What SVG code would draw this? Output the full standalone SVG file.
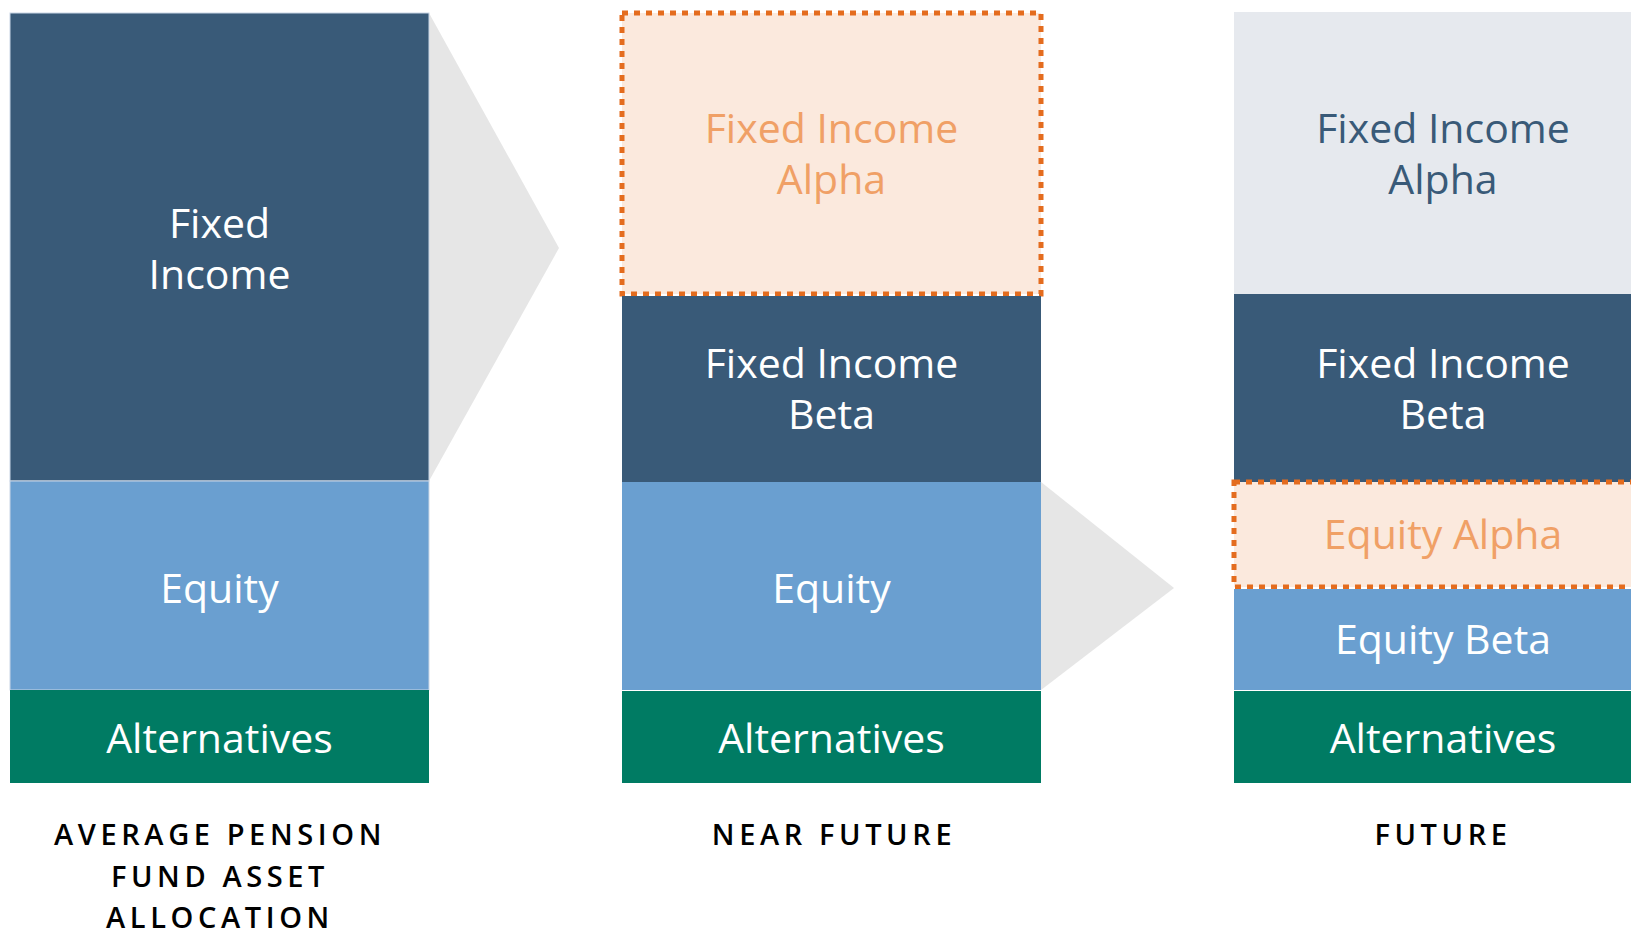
<svg xmlns="http://www.w3.org/2000/svg" width="1631" height="933" viewBox="0 0 1631 933">
<style>
.dark{fill:#395a78}
.eq{fill:#6a9fd0}
.alt{fill:#007b63}
.alpha{fill:#fbe9dd}
.grey{fill:#e6e9ee}
.dash{fill:none;stroke:#e46c1e;stroke-width:5;stroke-dasharray:6 6}
.arrow{fill:#e6e6e6}
.t{font-family:"Open Sans","Noto Sans",sans-serif;font-size:41px;font-weight:500;text-anchor:middle}
.w{fill:#ffffff}
.o{fill:#f0a066}
.b{fill:#395a78}
.h{font-family:"Open Sans","Noto Sans",sans-serif;font-size:29px;font-weight:600;letter-spacing:4.6px;text-anchor:middle;fill:#000000}
</style>
<rect width="1631" height="933" fill="#ffffff"/>
<g id="connectors">
<polygon class="arrow" points="429,13 559,248 429,481"/>
<polygon class="arrow" points="1041,482 1174,588 1041,690"/>
</g>
<g id="col1">
<g id="c1-fixed-income"><rect class="dark" x="10" y="13" width="419" height="468" stroke="#c9d6e6" stroke-width="1"/><text class="t w" x="219.5" y="238">Fixed</text><text class="t w" x="219.5" y="289">Income</text></g>
<g id="c1-equity"><rect class="eq" x="10" y="481" width="419" height="209" stroke="#c9d6e6" stroke-width="1"/><text class="t w" x="219.5" y="603">Equity</text></g>
<g id="c1-alternatives"><rect class="alt" x="10" y="690" width="419" height="93"/><text class="t w" x="219.5" y="753">Alternatives</text></g>
<g id="c1-label"><text class="h" x="220" y="845">AVERAGE PENSION</text><text class="h" x="220" y="887">FUND ASSET</text><text class="h" x="220" y="928">ALLOCATION</text></g>
</g>
<g id="col2">
<g id="c2-fi-alpha"><rect class="alpha" x="622" y="13" width="419" height="281"/><rect class="dash" x="622" y="13" width="419" height="281"/><text class="t o" x="831.5" y="143">Fixed Income</text><text class="t o" x="831.5" y="194">Alpha</text></g>
<g id="c2-fi-beta"><rect class="dark" x="622" y="296" width="419" height="186"/><text class="t w" x="831.5" y="378">Fixed Income</text><text class="t w" x="831.5" y="429">Beta</text></g>
<g id="c2-equity"><rect class="eq" x="622" y="482" width="419" height="208"/><text class="t w" x="831.5" y="603">Equity</text></g>
<g id="c2-alternatives"><rect class="alt" x="622" y="691" width="419" height="92"/><text class="t w" x="831.5" y="753">Alternatives</text></g>
<g id="c2-label"><text class="h" x="834" y="845">NEAR FUTURE</text></g>
</g>
<g id="col3">
<g id="c3-fi-alpha"><rect class="grey" x="1234" y="12" width="419" height="282"/><text class="t b" x="1443" y="143">Fixed Income</text><text class="t b" x="1443" y="194">Alpha</text></g>
<g id="c3-fi-beta"><rect class="dark" x="1234" y="294" width="419" height="188"/><text class="t w" x="1443" y="378">Fixed Income</text><text class="t w" x="1443" y="429">Beta</text></g>
<g id="c3-eq-alpha"><rect class="alpha" x="1234" y="482" width="419" height="105"/><rect class="dash" x="1234" y="482" width="419" height="105"/><text class="t o" x="1443" y="549">Equity Alpha</text></g>
<g id="c3-eq-beta"><rect class="eq" x="1234" y="589" width="419" height="101"/><text class="t w" x="1443" y="654">Equity Beta</text></g>
<g id="c3-alternatives"><rect class="alt" x="1234" y="691" width="419" height="92"/><text class="t w" x="1443" y="753">Alternatives</text></g>
<g id="c3-label"><text class="h" x="1443" y="845">FUTURE</text></g>
</g>
</svg>
